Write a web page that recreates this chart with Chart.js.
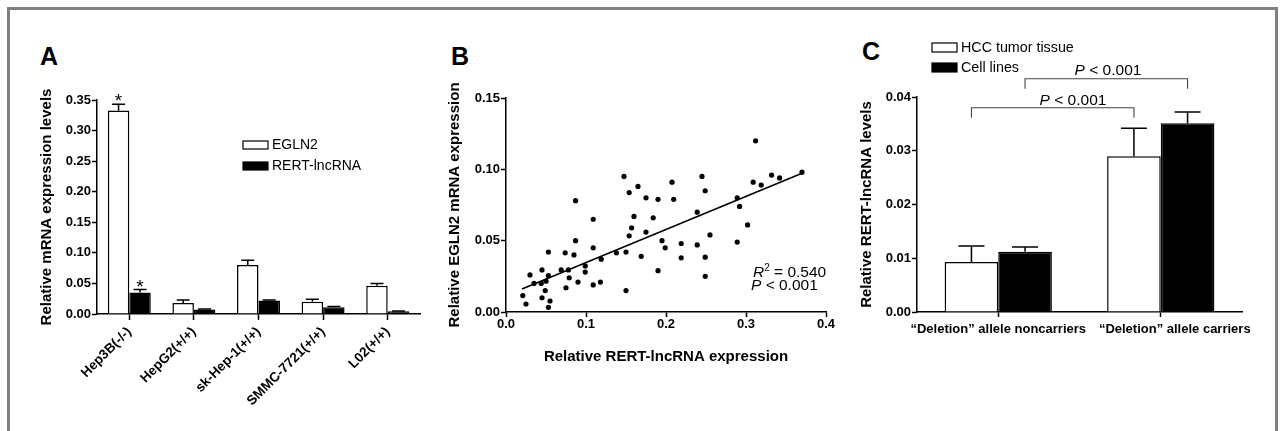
<!DOCTYPE html>
<html><head><meta charset="utf-8">
<script src="https://cdn.jsdelivr.net/npm/chart.js@4.4.1/dist/chart.umd.min.js"></script>
<style>
html,body{margin:0;padding:0;background:#fff;}
#wrap{position:relative;width:1281px;height:431px;overflow:hidden;background:#fff;}
#frame{position:absolute;left:7px;top:7px;width:1265px;height:500px;border:3px solid #808080;}
canvas{position:absolute;}
.lbl{position:absolute;font-family:'Liberation Sans',Arial,sans-serif;font-weight:bold;font-size:25px;line-height:25px;color:#000;}
</style></head>
<body>
<div id="wrap">
<div id="frame"></div>
<div class="lbl" style="left:40px;top:44px">A</div>
<div class="lbl" style="left:451px;top:44px">B</div>
<div class="lbl" style="left:862px;top:39px">C</div>
<canvas id="chartA" width="420" height="420" style="left:10px;top:10px"></canvas>
<canvas id="chartB" width="400" height="420" style="left:440px;top:10px"></canvas>
<canvas id="chartC" width="420" height="420" style="left:850px;top:10px"></canvas>
</div>
<script>
// ---------- Panel A data ----------
const cellLines = ['Hep3B(-/-)', 'HepG2(+/+)', 'sk-Hep-1(+/+)', 'SMMC-7721(+/+)', 'L02(+/+)'];
const egln2 = [0.333, 0.018, 0.080, 0.020, 0.046];
const egln2Err = [0.010, 0.005, 0.008, 0.004, 0.004];
const rertA = [0.035, 0.0075, 0.022, 0.011, 0.0043];
const rertAErr = [0.005, 0.0005, 0.001, 0.0012, 0.0007];
const egln2Marks = ['*', '', '', '', ''];
const rertAMarks = ['*', '', '', '', ''];
const yTicksA = [0, 0.35, 0.05];

// ---------- Panel B data ----------
const rertExpr = [0.021,0.025,0.030,0.035,0.044,0.045,0.045,0.050,0.049,0.053,0.053,0.053,0.055,0.069,0.074,0.075,0.078,0.079,0.085,0.087,0.087,0.090,0.099,0.099,0.109,0.109,0.109,0.119,0.118,0.138,0.1475,0.150,0.150,0.154,0.154,0.157,0.160,0.165,0.169,0.175,0.175,0.184,0.190,0.190,0.195,0.199,0.2075,0.2096,0.219,0.219,0.239,0.239,0.245,0.249,0.249,0.249,0.255,0.289,0.289,0.292,0.302,0.309,0.312,0.319,0.332,0.342,0.370];
const eglnExpr = [0.0115,0.0056,0.026,0.020,0.020,0.0295,0.010,0.0216,0.015,0.042,0.0255,0.0033,0.0077,0.0295,0.0415,0.017,0.0295,0.024,0.040,0.078,0.050,0.021,0.0323,0.028,0.065,0.045,0.019,0.037,0.021,0.0415,0.095,0.042,0.015,0.0837,0.0534,0.059,0.067,0.088,0.039,0.056,0.080,0.066,0.079,0.029,0.050,0.045,0.091,0.079,0.048,0.038,0.070,0.047,0.095,0.085,0.0384,0.025,0.054,0.080,0.049,0.074,0.061,0.091,0.120,0.089,0.096,0.094,0.098];
const fitX = [0.02, 0.37];
const fitY = [0.0162, 0.0973];
const statsB = ['R', '2', ' = 0.540', 'P', ' < 0.001'];

// ---------- Panel C data ----------
const groups = ['\u201CDeletion\u201D allele noncarriers', '\u201CDeletion\u201D allele carriers'];
const hcc = [0.0093, 0.0290];
const hccErr = [0.0030, 0.0052];
const cells = [0.0112, 0.0351];
const cellsErr = [0.0009, 0.0021];
const bracketLevels = [0.0380, 0.0434];
const pLabel = ['P', ' < 0.001'];

const FONT = "'Liberation Sans', Arial, Helvetica, sans-serif";
Chart.defaults.font.family = FONT;
Chart.defaults.color = '#000';

function drawRich(ctx, parts, x, y, align, size) {
  const fontFor = p => (p[1] === 'i' ? 'italic ' : '') + (p[1] === 'sup' ? Math.round(size * 0.65) : size) + 'px ' + FONT;
  let w = 0;
  parts.forEach(p => { ctx.font = fontFor(p); w += ctx.measureText(p[0]).width; });
  let cx = align === 'center' ? x - w / 2 : x;
  ctx.textAlign = 'left'; ctx.textBaseline = 'alphabetic'; ctx.fillStyle = '#000';
  parts.forEach(p => {
    ctx.font = fontFor(p);
    ctx.fillText(p[0], cx, p[1] === 'sup' ? y - size * 0.4 : y);
    cx += ctx.measureText(p[0]).width;
  });
}

function drawErrors(chart, errs, cap) {
  const ctx = chart.ctx, ys = chart.scales.y;
  chart.data.datasets.forEach((ds, i) => {
    chart.getDatasetMeta(i).data.forEach((bar, j) => {
      const e = errs[i][j];
      if (!e) return;
      const top = ys.getPixelForValue(ds.data[j] + e);
      ctx.save();
      ctx.strokeStyle = '#000'; ctx.lineWidth = 1.5;
      ctx.beginPath();
      ctx.moveTo(bar.x, bar.y); ctx.lineTo(bar.x, top);
      ctx.moveTo(bar.x - cap / 2, top); ctx.lineTo(bar.x + cap / 2, top);
      ctx.stroke();
      ctx.restore();
    });
  });
}

function legendBox(ctx, x, y, w, h, fill, text, size) {
  ctx.save();
  ctx.fillStyle = fill; ctx.fillRect(x, y, w, h);
  ctx.strokeStyle = '#000'; ctx.lineWidth = 1.2; ctx.strokeRect(x, y, w, h);
  ctx.fillStyle = '#000'; ctx.font = size + 'px ' + FONT;
  ctx.textAlign = 'left'; ctx.textBaseline = 'middle';
  ctx.fillText(text, x + w + 4, y + h / 2 + 0.5);
  ctx.restore();
}

function axisGrid(len) {
  return { display: true, drawOnChartArea: false, drawTicks: true, tickLength: len, tickColor: '#000', tickWidth: 1.5, offset: false };
}
const axisBorder = { display: true, color: '#000', width: 1.5 };
const tickFont = { size: 13, weight: 'bold' };

// ---------- Chart A ----------
new Chart(document.getElementById('chartA'), {
  type: 'bar',
  data: {
    labels: cellLines,
    datasets: [
      { label: 'EGLN2', data: egln2, backgroundColor: '#fff', borderColor: '#000', borderWidth: 1.5, categoryPercentage: 0.665, barPercentage: 1 },
      { label: 'RERT-lncRNA', data: rertA, backgroundColor: '#000', borderColor: '#000', borderWidth: 1.5, categoryPercentage: 0.665, barPercentage: 1 }
    ]
  },
  options: {
    responsive: false, animation: false,
    layout: { padding: { top: 90, right: 10, bottom: 0, left: 0 } },
    plugins: { legend: { display: false }, tooltip: { enabled: false } },
    scales: {
      x: {
        grid: axisGrid(6), border: axisBorder,
        ticks: { autoSkip: false, minRotation: 45, maxRotation: 45, font: { size: 13.5, weight: 'bold' }, color: '#000', padding: 4 },
        afterFit(s) { s.height = 116; }
      },
      y: {
        min: yTicksA[0], max: yTicksA[1],
        grid: axisGrid(5), border: axisBorder,
        ticks: { stepSize: yTicksA[2], font: tickFont, color: '#000', padding: 1, callback: v => Number(v).toFixed(2) },
        title: { display: true, text: 'Relative mRNA expression levels', font: { size: 15, weight: 'bold' }, color: '#000', padding: { top: 28, bottom: 0 } },
        afterFit(s) { s.width = 87; }
      }
    }
  },
  plugins: [{
    id: 'extrasA',
    afterDatasetsDraw(chart) {
      const ctx = chart.ctx, ys = chart.scales.y;
      const errs = [egln2Err, rertAErr];
      drawErrors(chart, errs, 13);
      const marks = [egln2Marks, rertAMarks];
      ctx.save();
      ctx.fillStyle = '#000'; ctx.font = '19px ' + FONT;
      ctx.textAlign = 'center'; ctx.textBaseline = 'alphabetic';
      chart.data.datasets.forEach((ds, i) => {
        chart.getDatasetMeta(i).data.forEach((bar, j) => {
          if (!marks[i][j]) return;
          const top = ys.getPixelForValue(ds.data[j] + errs[i][j]);
          ctx.fillText(marks[i][j], bar.x, top + 3);
        });
      });
      ctx.restore();
      legendBox(ctx, 233, 131, 25, 8, '#fff', chart.data.datasets[0].label, 14);
      legendBox(ctx, 233, 152, 25, 8, '#000', chart.data.datasets[1].label, 14);
    }
  }]
});

// ---------- Chart B ----------
new Chart(document.getElementById('chartB'), {
  type: 'scatter',
  data: {
    datasets: [
      { data: rertExpr.map((x, i) => ({ x: x, y: eglnExpr[i] })), backgroundColor: '#000', borderColor: '#000', pointRadius: 2.6, pointBorderWidth: 0 },
      { type: 'line', data: fitX.map((x, i) => ({ x: x, y: fitY[i] })), borderColor: '#000', borderWidth: 1.6, pointRadius: 0, fill: false, tension: 0 }
    ]
  },
  options: {
    responsive: false, animation: false,
    layout: { padding: { top: 88, right: 14, bottom: 0, left: 0 } },
    plugins: { legend: { display: false }, tooltip: { enabled: false } },
    scales: {
      x: {
        type: 'linear', min: 0, max: 0.4,
        grid: axisGrid(5), border: axisBorder,
        ticks: { stepSize: 0.1, font: tickFont, color: '#000', padding: 0, callback: v => Number(v).toFixed(1) },
        title: { display: true, text: 'Relative RERT-lncRNA expression', font: { size: 15, weight: 'bold' }, color: '#000', padding: { top: 0, bottom: 64 } },
        afterFit(s) { s.height = 118; }
      },
      y: {
        min: 0, max: 0.15,
        grid: axisGrid(5), border: axisBorder,
        ticks: { stepSize: 0.05, font: tickFont, color: '#000', padding: 1, callback: v => Number(v).toFixed(2) },
        title: { display: true, text: 'Relative EGLN2 mRNA expression', font: { size: 15, weight: 'bold' }, color: '#000', padding: { top: 6, bottom: 0 } },
        afterFit(s) { s.width = 66; }
      }
    }
  },
  plugins: [{
    id: 'extrasB',
    afterDatasetsDraw(chart) {
      const ctx = chart.ctx;
      ctx.save();
      drawRich(ctx, [[statsB[0], 'i'], [statsB[1], 'sup'], [statsB[2], '']], 313, 267, 'left', 15.5);
      drawRich(ctx, [[statsB[3], 'i'], [statsB[4], '']], 311, 280, 'left', 15.5);
      ctx.restore();
    }
  }]
});

// ---------- Chart C ----------
new Chart(document.getElementById('chartC'), {
  type: 'bar',
  data: {
    labels: groups,
    datasets: [
      { label: 'HCC tumor tissue', data: hcc, backgroundColor: '#fff', borderColor: '#000', borderWidth: 1.5, categoryPercentage: 0.66, barPercentage: 1 },
      { label: 'Cell lines', data: cells, backgroundColor: '#000', borderColor: '#000', borderWidth: 1.5, categoryPercentage: 0.66, barPercentage: 1 }
    ]
  },
  options: {
    responsive: false, animation: false,
    layout: { padding: { top: 87, right: 28, bottom: 0, left: 0 } },
    plugins: { legend: { display: false }, tooltip: { enabled: false } },
    scales: {
      x: {
        grid: axisGrid(5), border: axisBorder,
        ticks: { autoSkip: false, minRotation: 0, maxRotation: 0, font: tickFont, color: '#000', padding: 5 },
        afterFit(s) { s.height = 118; }
      },
      y: {
        min: 0, max: 0.04,
        grid: axisGrid(5), border: axisBorder,
        ticks: { stepSize: 0.01, font: tickFont, color: '#000', padding: 1, callback: v => Number(v).toFixed(2) },
        title: { display: true, text: 'Relative RERT-lncRNA levels', font: { size: 15, weight: 'bold' }, color: '#000', padding: { top: 8, bottom: 0 } },
        afterFit(s) { s.width = 67; }
      }
    }
  },
  plugins: [{
    id: 'extrasC',
    beforeDraw(chart) {
      const items = chart.scales.x.getLabelItems();
      if (items[1] && !items[1]._shifted) { items[1].options.translation[0] += 14; items[1]._shifted = true; }
    },
    afterDatasetsDraw(chart) {
      const ctx = chart.ctx, ys = chart.scales.y;
      drawErrors(chart, [hccErr, cellsErr], 26);
      legendBox(ctx, 82, 33, 25, 9, '#fff', chart.data.datasets[0].label, 14.3);
      legendBox(ctx, 82, 53, 25, 9, '#000', chart.data.datasets[1].label, 14.3);
      // brackets
      ctx.save();
      ctx.strokeStyle = '#444'; ctx.lineWidth = 1.1;
      const lblPos = [[223, 95], [258, 65]];
      bracketLevels.forEach((lvl, k) => {
        const meta = chart.getDatasetMeta(k);
        const x1 = meta.data[0].x, x2 = meta.data[1].x;
        const yTop = ys.getPixelForValue(lvl);
        ctx.beginPath();
        ctx.moveTo(x1, yTop + 10); ctx.lineTo(x1, yTop); ctx.lineTo(x2, yTop); ctx.lineTo(x2, yTop + 10);
        ctx.stroke();
        drawRich(ctx, [[pLabel[0], 'i'], [pLabel[1], '']], lblPos[k][0], lblPos[k][1], 'center', 15.5);
      });
      ctx.restore();
    }
  }]
});
</script>
</body></html>
